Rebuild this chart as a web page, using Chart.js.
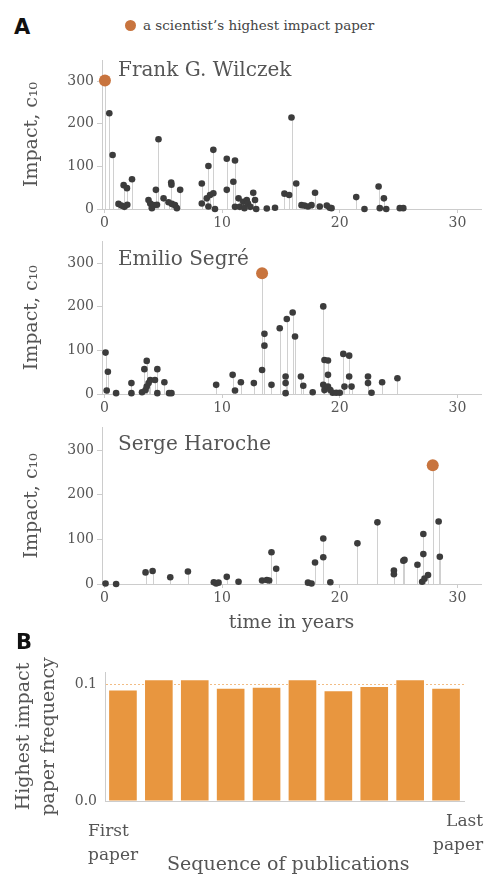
<!DOCTYPE html>
<html>
<head>
<meta charset="utf-8">
<script src="https://cdn.jsdelivr.net/npm/chart.js@4.4.0/dist/chart.umd.min.js"></script>
<style>
  body { margin: 0; background: #fff; }
  #wrap { position: relative; width: 489px; height: 874px; overflow: hidden; font-family: "DejaVu Serif", serif; }
  .box { position: absolute; left: 0; width: 489px; }
  .lbl { position: absolute; color: #555; white-space: nowrap; line-height: 20px; }
  .tag { position: absolute; font: bold 21px "DejaVu Sans", sans-serif; color: #111; }
</style>
</head>
<body>
<div id="wrap">
  <div class="tag" style="left:14px;top:15px">A</div>
  <div class="lbl" style="left:125px;top:15px;font-size:13.5px;color:#444">
    <span style="display:inline-block;width:11px;height:11px;border-radius:50%;background:#c8743e;vertical-align:-1px;margin-right:7px"></span>a scientist’s highest impact paper
  </div>

  <div class="box" style="top:40px;height:200px"><canvas id="c1"></canvas></div>
  <div class="box" style="top:225px;height:200px"><canvas id="c2"></canvas></div>
  <div class="box" style="top:410px;height:230px"><canvas id="c3"></canvas></div>

  <div class="lbl" id="n1" style="left:118px;top:59px;font-size:20px"></div>
  <div class="lbl" id="n2" style="left:118px;top:248px;font-size:20px"></div>
  <div class="lbl" id="n3" style="left:118px;top:433px;font-size:20px"></div>

  <div class="tag" style="left:16px;top:630px">B</div>
  <div class="box" style="top:655px;height:219px"><canvas id="c4"></canvas></div>
  <div class="lbl" id="first" style="left:88px;top:818px;font-size:17px;line-height:24px"></div>
  <div class="lbl" id="last" style="left:433px;top:808px;font-size:17px;line-height:24px;text-align:right"></div>
  <div class="lbl" id="seq" style="left:167px;top:853px;font-size:19px"></div>
</div>
<script>
// panel A: years since first paper and c10 impact of each paper
const scientists = ["Frank G. Wilczek", "Emilio Segré", "Serge Haroche"];

const wilczekYears = [0.42, 0.70, 1.2, 1.45, 1.64, 1.7, 1.92, 1.95, 2.35, 3.75, 3.9, 4.04, 4.18, 4.38, 4.47, 4.6,
  5.03, 5.45, 5.68, 5.7, 5.74, 6.0, 6.16, 6.44, 8.28, 8.28, 8.7, 8.84, 8.84, 8.98, 9.26, 9.26, 9.4,
  10.4, 10.4, 10.96, 11.1, 11.1, 11.4, 11.5, 11.8, 11.9, 12.1, 12.2, 12.4, 12.65, 12.8, 12.9,
  13.8, 14.5, 15.3, 15.7, 15.9, 16.3, 16.75, 17.0, 17.3, 17.6, 17.9, 18.3, 18.9, 19.15, 19.3,
  21.4, 22.1, 23.3, 23.4, 23.75, 23.95, 25.1, 25.4];
const wilczekImpact = [225, 127, 12, 8, 56, 5, 49, 10, 70, 21, 13, 2, 9, 45, 10, 164,
  25, 16, 62, 57, 12, 9, 2, 45, 60, 13, 25, 101, 6, 33, 139, 37, 0,
  118, 45, 64, 114, 5, 25, 5, 17, 2, 21, 13, 5, 38, 21, 0,
  1, 3, 36, 33, 215, 60, 9, 8, 6, 9, 38, 6, 8, 3, 2,
  28, 0, 53, 2, 25, 0, 2, 2];
const wilczekBestYear = [0.05];
const wilczekBestImpact = [302];

const segreYears = [0.1, 0.3, 0.2, 1.0, 2.3, 2.3, 3.2, 3.4, 3.6, 3.5, 3.6, 3.76, 3.9, 4.3, 4.5, 4.5, 5.1, 5.5, 5.7,
  9.5, 10.9, 11.1, 11.6, 12.7, 13.6, 13.6, 13.4, 14.2, 14.9, 15.5, 15.4, 15.4, 15.4, 16.0, 16.2, 16.7, 16.9, 17.7,
  18.6, 18.7, 19.0, 19.0, 18.6, 18.7, 19.0, 19.2, 19.4, 19.7, 20.0, 20.3, 20.8, 20.8, 20.4, 21.0,
  22.4, 22.4, 22.7, 23.6, 24.9];
const segreImpact = [95, 51, 8, 2, 25, 2, 4, 57, 76, 9, 17, 25, 32, 32, 57, 2, 27, 2, 2,
  21, 44, 8, 27, 25, 138, 111, 55, 21, 151, 172, 40, 25, 2, 187, 132, 40, 19, 4,
  201, 78, 77, 44, 21, 9, 17, 9, 3, 3, 3, 92, 88, 40, 17, 17,
  40, 25, 3, 27, 36];
const segreBestYear = [13.4];
const segreBestImpact = [277];

const harocheYears = [0.1, 1.0, 3.5, 4.1, 5.6, 7.1, 9.3, 9.5, 9.7, 10.4, 11.4, 13.4, 13.8, 14.0, 14.2, 14.6,
  17.3, 17.6, 17.9, 18.6, 18.6, 19.2, 21.5, 23.2, 24.6, 24.6, 25.4, 25.5, 26.6, 27.1, 27.1, 27.0, 27.2, 27.5,
  28.4, 28.5];
const harocheImpact = [1, 0, 26, 29, 15, 28, 4, 1, 3, 16, 5, 8, 9, 8, 71, 34,
  3, 1, 48, 102, 60, 4, 91, 138, 30, 22, 52, 54, 43, 112, 67, 5, 12, 20,
  140, 61];
const harocheBestYear = [27.9];
const harocheBestImpact = [266];

const yearTicks = [0, 10, 20, 30];
const impactTicks = [0, 100, 200, 300];

// panel B
const seqBins = ["1", "2", "3", "4", "5", "6", "7", "8", "9", "10"];
const bestFrequency = [0.095, 0.104, 0.104, 0.0966, 0.0974, 0.104, 0.0945, 0.098, 0.104, 0.0966];
const freqTicks = [0, 0.1];
const seqEnds = ["First\npaper", "Last\npaper"];
const seqTitle = "Sequence of publications";

const textColor = "#555";
const axisColor = "#cccccc";
const tickFont = { family: "DejaVu Serif", size: 14 };
const titleFont = { family: "DejaVu Serif", size: 19 };

// thin grey stem from every paper down to zero
const stems = {
  id: "stems",
  beforeDatasetsDraw(chart) {
    const ctx = chart.ctx;
    const y0 = chart.scales.y.getPixelForValue(0);
    ctx.save();
    ctx.strokeStyle = "#d0d0d0";
    ctx.lineWidth = 1;
    chart.data.datasets.forEach((ds, i) => {
      chart.getDatasetMeta(i).data.forEach(p => {
        const x = Math.round(p.x) + 0.5;
        ctx.beginPath();
        ctx.moveTo(x, y0);
        ctx.lineTo(x, p.y);
        ctx.stroke();
      });
    });
    ctx.restore();
  }
};

function toPoints(xs, ys) {
  return xs.map((x, i) => ({ x: x, y: ys[i] }));
}

function impactPanel(id, years, impact, bestYear, bestImpact, padTop, xHeight, xTitle) {
  return new Chart(document.getElementById(id), {
    type: "scatter",
    data: {
      datasets: [{
        data: toPoints(years, impact),
        backgroundColor: "#3c3c3c",
        borderWidth: 0,
        pointRadius: 3.3,
        clip: false,
      }, {
        data: toPoints(bestYear, bestImpact),
        backgroundColor: "#c8743e",
        borderWidth: 0,
        pointRadius: 6,
        clip: false,
      }],
    },
    options: {
      responsive: true,
      maintainAspectRatio: false,
      animation: false,
      layout: { padding: { top: padTop, right: 8, left: 0, bottom: 0 } },
      plugins: { legend: { display: false }, tooltip: { enabled: false } },
      scales: {
        x: {
          type: "linear",
          min: -0.2,
          max: 32,
          border: { color: axisColor },
          grid: { drawOnChartArea: false, color: axisColor, tickLength: 4 },
          ticks: { font: tickFont, color: textColor, padding: 2, maxRotation: 0 },
          afterBuildTicks: s => { s.ticks = yearTicks.map(v => ({ value: v })); },
          afterFit: s => { s.height = xHeight; },
          title: { display: !!xTitle, text: xTitle, font: titleFont, color: textColor, padding: { top: 0, bottom: 6 } },
        },
        y: {
          min: 0,
          max: 350,
          border: { color: axisColor },
          grid: { drawOnChartArea: false, color: axisColor, tickLength: 5 },
          ticks: { font: tickFont, color: textColor, padding: 3 },
          afterBuildTicks: s => { s.ticks = impactTicks.map(v => ({ value: v })); },
          afterFit: s => { s.width = 102; },
          title: { display: true, text: "Impact, c₁₀", font: titleFont, color: textColor, padding: { top: 21, bottom: 0 } },
        },
      },
    },
    plugins: [stems],
  });
}

impactPanel("c1", wilczekYears, wilczekImpact, wilczekBestYear, wilczekBestImpact, 20, 31, "");
impactPanel("c2", segreYears, segreImpact, segreBestYear, segreBestImpact, 16.5, 31, "");
impactPanel("c3", harocheYears, harocheImpact, harocheBestYear, harocheBestImpact, 17.7, 56, "time in years");

document.getElementById("n1").textContent = scientists[0];
document.getElementById("n2").textContent = scientists[1];
document.getElementById("n3").textContent = scientists[2];

new Chart(document.getElementById("c4"), {
  type: "bar",
  data: {
    labels: seqBins,
    datasets: [{
      data: bestFrequency,
      backgroundColor: "#e8963f",
      barPercentage: 0.77,
      categoryPercentage: 1,
    }],
  },
  options: {
    responsive: true,
    maintainAspectRatio: false,
    animation: false,
    layout: { padding: { top: 17, right: 25, left: 0, bottom: 0 } },
    plugins: { legend: { display: false }, tooltip: { enabled: false } },
    scales: {
      x: {
        border: { color: axisColor },
        grid: { display: false },
        ticks: { display: false },
        afterFit: s => { s.height = 73; },
      },
      y: {
        min: 0,
        max: 0.111,
        border: { color: axisColor, dash: [2, 2] },
        grid: {
          drawTicks: false,
          color: c => (c.tick && c.tick.value === 0.1 ? "#f2bd85" : "rgba(0,0,0,0)"),
        },
        ticks: { font: tickFont, color: textColor, padding: 8, callback: v => v.toFixed(1) },
        afterBuildTicks: s => { s.ticks = freqTicks.map(v => ({ value: v })); },
        afterFit: s => { s.width = 105; },
        title: {
          display: true,
          text: ["Highest impact", "paper frequency"],
          font: { family: "DejaVu Serif", size: 19, lineHeight: 1.3 },
          color: textColor,
          padding: { top: 12, bottom: 0 },
        },
      },
    },
  },
});

document.getElementById("first").innerText = seqEnds[0];
document.getElementById("last").innerText = seqEnds[1];
document.getElementById("seq").textContent = seqTitle;
</script>
</body>
</html>
